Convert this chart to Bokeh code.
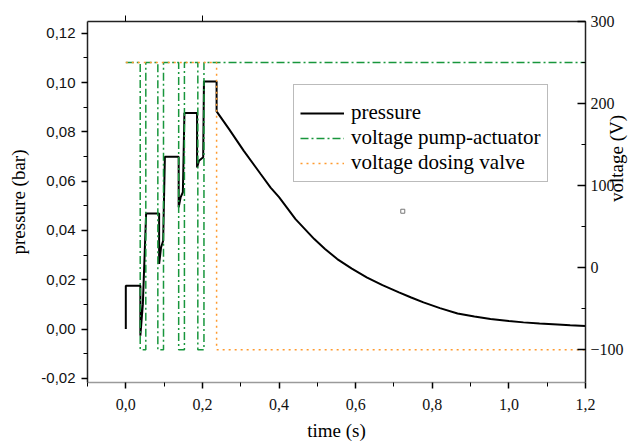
import math
from bokeh.plotting import figure
from bokeh.models import (Range1d, LinearAxis, SingleIntervalTicker, FixedTicker,
                          CustomJSTickFormatter, Legend, LegendItem)
from bokeh.embed import file_html
from bokeh.resources import INLINE

# ---------------- data ----------------
p_time = [0.0, 0.0, 0.038, 0.038, 0.0445, 0.053, 0.087, 0.087, 0.092, 0.0975, 0.102,
          0.138, 0.138, 0.143, 0.149, 0.153, 0.186, 0.186, 0.191, 0.202, 0.204,
          0.237, 0.237, 0.27, 0.308, 0.352, 0.378, 0.40, 0.443, 0.492, 0.52, 0.552,
          0.59, 0.630, 0.67, 0.713, 0.745, 0.777, 0.82, 0.866, 0.91, 0.952, 1.0,
          1.038, 1.08, 1.127, 1.16, 1.20]
pressure = [0.0, 0.0176, 0.0176, -0.0027, 0.0101, 0.0469, 0.0469, 0.0264, 0.0331, 0.0358, 0.0699,
            0.0699, 0.0494, 0.0534, 0.0555, 0.0877, 0.0877, 0.0656, 0.0683, 0.0697, 0.1005,
            0.1005, 0.0883, 0.0810, 0.0723, 0.0629, 0.0574, 0.0535, 0.0446, 0.0365, 0.0325, 0.0284,
            0.0245, 0.0209, 0.0178, 0.0149, 0.0128, 0.0108, 0.0085, 0.0063, 0.0051, 0.0041, 0.0033,
            0.0027, 0.0022, 0.0018, 0.0015, 0.0012]

pump_time = [0.0, 0.0376, 0.0376, 0.0522, 0.0522, 0.0836, 0.0836, 0.0984, 0.0984,
             0.138, 0.138, 0.153, 0.153, 0.188, 0.188, 0.204, 0.204, 1.2]
pump_voltage = [250, 250, -100, -100, 250, 250, -100, -100, 250,
                250, -100, -100, 250, 250, -100, -100, 250, 250]

valve_time = [0.0, 0.237, 0.237, 1.2]
valve_voltage = [250, 250, -100, -100]

speck_time = [0.723]
speck_pressure = [0.0478]

x_ticks = [0.0, 0.2, 0.4, 0.6, 0.8, 1.0, 1.2]
x_minor_ticks = [-0.1, 0.1, 0.3, 0.5, 0.7, 0.9, 1.1]
p_ticks_interval = 0.02
v_ticks_interval = 100

GREEN = "#18963c"
ORANGE = "#ff9a2e"
SERIF = "Liberation Serif"
SANS = "Liberation Sans"

p = figure(width=641, height=444, x_range=Range1d(-0.1, 1.2),
           y_range=Range1d(-0.0217, 0.1248),
           output_backend="svg", toolbar_location=None,
           min_border_left=87, min_border_right=56, min_border_top=21, min_border_bottom=62)
p.outline_line_color = None
p.grid.visible = False
p.background_fill_color = "white"
p.border_fill_color = "white"
p.extra_y_ranges = {"v": Range1d(-140, 300)}

# left axis
ya = p.yaxis[0]
ya.ticker = SingleIntervalTicker(interval=p_ticks_interval, num_minor_ticks=2)
ya.formatter = CustomJSTickFormatter(code="return tick.toFixed(2).replace('.', ',');")
ya.axis_label = "pressure (bar)"
ya.axis_label_text_font = SERIF
ya.axis_label_text_font_style = "normal"
ya.axis_label_text_font_size = "19px"
ya.axis_label_text_color = "black"
ya.axis_label_standoff = 9
ya.major_label_text_font = SANS
ya.major_label_text_font_size = "15px"
ya.major_label_text_color = "#111111"
ya.major_label_standoff = 6
ya.major_tick_in = 0
ya.major_tick_out = 6
ya.minor_tick_in = 0
ya.minor_tick_out = 4
ya.axis_line_color = "#222222"
ya.axis_line_width = 1.5
ya.major_tick_line_width = 1.5

# bottom axis
xa = p.xaxis[0]
xa.ticker = FixedTicker(ticks=x_ticks, minor_ticks=x_minor_ticks)
xa.formatter = CustomJSTickFormatter(code="return tick.toFixed(1).replace('.', ',');")
xa.axis_label = "time (s)"
xa.axis_label_text_font = SERIF
xa.axis_label_text_font_style = "normal"
xa.axis_label_text_font_size = "19px"
xa.axis_label_text_color = "black"
xa.axis_label_standoff = 7
xa.major_label_text_font = SERIF
xa.major_label_text_font_size = "16px"
xa.major_label_text_color = "#111111"
xa.major_label_standoff = 10
xa.major_tick_in = 0
xa.major_tick_out = 6
xa.minor_tick_in = 0
xa.minor_tick_out = 4
xa.axis_line_color = "#9a9a9a"
xa.axis_line_width = 1.5
xa.major_tick_line_width = 1.5

# right axis
ra = LinearAxis(y_range_name="v",
                ticker=SingleIntervalTicker(interval=v_ticks_interval, num_minor_ticks=2),
                axis_label="voltage (V)")
ra.axis_label_text_font = SERIF
ra.axis_label_text_font_style = "normal"
ra.axis_label_text_font_size = "19px"
ra.axis_label_text_color = "black"
ra.axis_label_orientation = math.pi / 2
ra.axis_label_standoff = -10
ra.major_label_text_font = SERIF
ra.major_label_text_font_size = "16px"
ra.major_label_text_color = "#111111"
ra.major_label_standoff = 5
ra.major_tick_in = 8
ra.major_tick_out = 0
ra.minor_tick_in = 4
ra.minor_tick_out = 0
ra.axis_line_color = "#222222"
ra.axis_line_width = 1.5
ra.major_tick_line_width = 1.5
p.add_layout(ra, "right")

# top frame line with two short ticks
ta = LinearAxis(ticker=FixedTicker(ticks=[0.0, 0.2], minor_ticks=[]),
                formatter=CustomJSTickFormatter(code="return '';"))
ta.major_tick_in = 0
ta.major_tick_out = 6
ta.major_label_standoff = 0
ta.axis_line_color = "#222222"
ta.axis_line_width = 1.5
p.add_layout(ta, "above")

# series
r_p = p.line(p_time, pressure, line_color="black", line_width=2)
r_pump = p.line(pump_time, pump_voltage, y_range_name="v", line_color=GREEN,
                line_width=1.5, line_dash="8 3 2 3")
r_valve = p.line(valve_time, valve_voltage, y_range_name="v", line_color=ORANGE,
                 line_width=1.5, line_dash="2 4")
p.scatter(speck_time, speck_pressure, marker="square", size=4, fill_color=None,
          line_color="#777777", line_width=1)

legend = Legend(items=[LegendItem(label="pressure", renderers=[r_p]),
                       LegendItem(label="voltage pump-actuator", renderers=[r_pump]),
                       LegendItem(label="voltage dosing valve", renderers=[r_valve])],
                location=(206, 200))
legend.title = " "
legend.title_text_font_size = "8px"
legend.title_standoff = 0
legend.label_text_font = SERIF
legend.label_text_font_size = "21px"
legend.label_text_color = "black"
legend.label_height = 22
legend.glyph_height = 22
legend.glyph_width = 44
legend.label_standoff = 7
legend.spacing = -2
legend.padding = 6
legend.margin = 0
legend.border_line_color = "#777777"
legend.border_line_width = 1
legend.background_fill_alpha = 1
p.add_layout(legend)

open("out.html", "w").write(file_html(p, INLINE))
